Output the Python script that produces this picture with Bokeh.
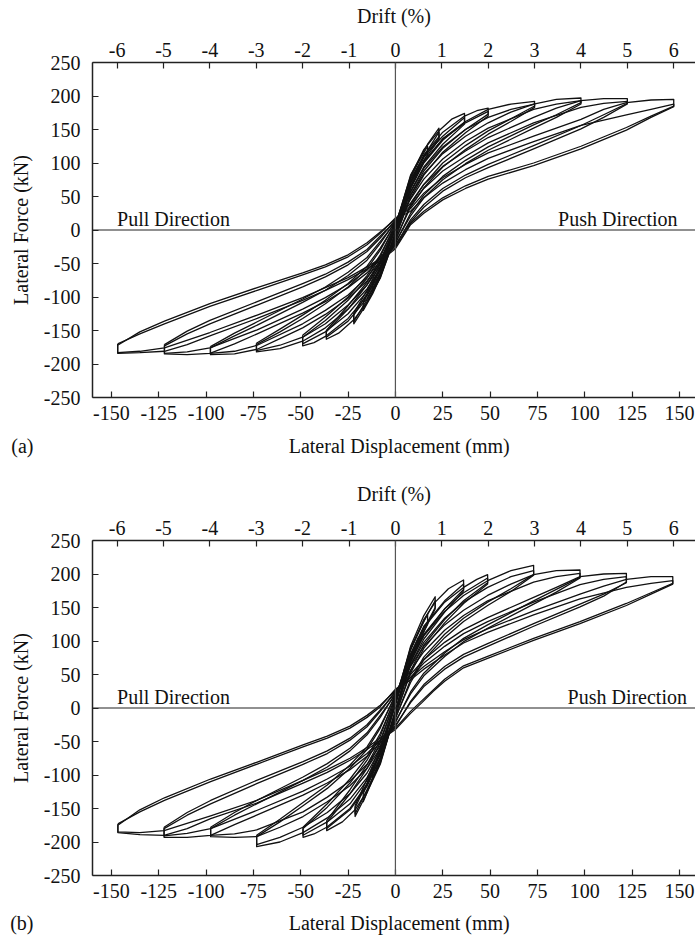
from bokeh.plotting import figure
from bokeh.models import (Range1d, LinearAxis, FixedTicker, Span, Label, ColumnDataSource,
                          CustomJSTickFormatter)
from bokeh.core.properties import value
from bokeh.layouts import column
from bokeh.embed import file_html
from bokeh.resources import INLINE

FONT = "Liberation Serif"

DISP_TICKS = [-150, -125, -100, -75, -50, -25, 0, 25, 50, 75, 100, 125, 150]
FORCE_TICKS = [-250, -200, -150, -100, -50, 0, 50, 100, 150, 200, 250]
DRIFT_TICKS = [-6, -5, -4, -3, -2, -1, 0, 1, 2, 3, 4, 5, 6]
MM_PER_PCT = 24.5
X_START, X_END = -160, 158.5

A_025 = [(-6, -45), (0, 2), (6, 55), (6, 48), (0, -4), (-6, -52)]
A_050 = [(-12, -80), (-6, -45), (0, 3), (6, 60), (12, 95),
         (12, 85), (6, 52), (0, -5), (-6, -52), (-12, -90)]
A_075 = [(-17, -108), (-8, -60), (0, 4), (8, 78), (12, 100), (17, 125),
         (17, 113), (8, 70), (0, -6), (-8, -70), (-12, -95), (-17, -120)]
A_100 = [(-22, -127), (-15, -95), (-8, -55), (0, 5), (8, 82), (17, 128), (23, 152),
         (23, 137), (15, 108), (8, 70), (0, -8), (-8, -72), (-17, -118), (-22, -140)]
A_150 = [(-36.5, -152), (-25, -118), (-15, -82), (-8, -48), (0, 7), (8, 80), (15, 120), (23, 148), (30, 166), (36.5, 174),
         (36.5, 161), (25, 134), (15, 100), (8, 62), (0, -10), (-8, -70), (-15, -108), (-22, -134), (-30, -154), (-36.5, -163)]
A_200 = [(-49, -160), (-37, -135), (-25, -105), (-15, -72), (-8, -40), (0, 9), (8, 72), (15, 112), (25, 146), (36.5, 170), (43, 178), (49, 182),
         (49, 173), (37, 150), (25, 122), (15, 88), (8, 52), (0, -12), (-8, -64), (-15, -98), (-25, -132), (-36.5, -158), (-43, -168), (-49, -173)]
A_300 = [(-73.4, -171), (-61, -152), (-49, -132), (-37, -110), (-25, -85), (-15, -58), (-8, -30), (0, 11), (8, 64), (15, 102), (25, 136), (37, 162), (49, 180), (61, 188), (73.5, 192),
         (73.5, 185), (61, 166), (49, 148), (37, 126), (25, 100), (15, 68), (8, 38), (0, -16), (-8, -58), (-15, -88), (-25, -118), (-37, -146), (-49, -166), (-61, -177), (-73.4, -182)]
A_400 = [(-97.7, -176), (-85, -158), (-73, -142), (-49, -108), (-37, -90), (-25, -68), (-15, -45), (-8, -20), (0, 13), (8, 52), (15, 84), (25, 114), (37, 140), (49, 160), (61, 176), (73, 188), (85, 195), (98, 197),
         (98, 190), (85, 172), (73, 157), (49, 124), (37, 104), (25, 80), (15, 52), (8, 25), (0, -20), (-8, -50), (-15, -76), (-25, -102), (-37, -126), (-49, -146), (-61, -162), (-73, -178), (-85, -185), (-97.7, -186)]
A_500 = [(-122, -173), (-110, -155), (-98, -140), (-73, -112), (-49, -85), (-37, -70), (-25, -52), (-15, -32), (-8, -12), (0, 15), (8, 40), (15, 68), (25, 95), (37, 118), (49, 138), (73, 168), (85, 182), (98, 193), (110, 196), (122.5, 196),
         (122.5, 189), (110, 172), (98, 156), (73, 126), (49, 98), (37, 82), (25, 62), (15, 38), (8, 15), (0, -24), (-8, -42), (-15, -64), (-25, -86), (-37, -107), (-49, -124), (-73, -155), (-85, -170), (-98, -184), (-110, -186), (-122, -185)]
A_600 = [(-146.7, -170), (-135, -155), (-122, -140), (-98, -114), (-73, -90), (-49, -67), (-37, -55), (-25, -40), (-15, -22), (-8, -5), (0, 18), (8, 32), (15, 55), (25, 78), (37, 98), (49, 115), (73, 140), (98, 165), (110, 180), (122, 190), (135, 194), (147, 195),
         (147, 184), (135, 168), (122, 149), (98, 121), (73, 96), (49, 76), (37, 62), (25, 45), (15, 25), (8, 8), (0, -28), (-8, -46), (-15, -58), (-25, -74), (-37, -90), (-49, -105), (-73, -132), (-98, -158), (-110, -171), (-122, -181), (-135, -183), (-146.7, -184)]

A2_100 = [(-22, -124), (-15, -90), (-8, -50), (0, 3), (8, 76), (15, 110), (23, 146),
          (23, 135), (15, 104), (8, 66), (0, -6), (-8, -68), (-15, -104), (-22, -137)]
A2_150 = [(-36.5, -150), (-25, -113), (-15, -78), (-8, -45), (0, 5), (8, 72), (15, 110), (25, 140), (36.5, 168),
          (36.5, 158), (25, 128), (15, 94), (8, 58), (0, -8), (-8, -66), (-15, -102), (-25, -136), (-36.5, -160)]
A2_200 = [(-49, -157), (-37, -130), (-25, -100), (-15, -68), (-8, -37), (0, 7), (8, 64), (15, 102), (25, 136), (37, 160), (49, 177),
          (49, 170), (37, 145), (25, 116), (15, 82), (8, 48), (0, -10), (-8, -60), (-15, -92), (-25, -125), (-37, -152), (-49, -170)]
A2_300 = [(-73.4, -169), (-61, -148), (-49, -127), (-37, -105), (-25, -80), (-15, -54), (-8, -27), (0, 9), (8, 56), (15, 92), (25, 124), (37, 150), (49, 168), (61, 180), (73.5, 188),
          (73.5, 183), (61, 162), (49, 143), (37, 120), (25, 94), (15, 63), (8, 34), (0, -14), (-8, -54), (-15, -82), (-25, -112), (-37, -140), (-49, -160), (-61, -172), (-73.4, -180)]
A2_400 = [(-97.7, -174), (-85, -154), (-73, -137), (-49, -103), (-37, -85), (-25, -63), (-15, -41), (-8, -17), (0, 11), (8, 46), (15, 76), (25, 106), (37, 132), (49, 152), (73, 180), (85, 188), (98, 193),
          (98, 188), (85, 168), (73, 152), (49, 119), (37, 99), (25, 75), (15, 48), (8, 21), (0, -18), (-8, -46), (-15, -71), (-25, -97), (-37, -120), (-49, -140), (-73, -172), (-85, -181), (-97.7, -184)]
A2_500 = [(-122, -171), (-110, -151), (-98, -135), (-73, -107), (-49, -80), (-37, -66), (-25, -48), (-15, -29), (-8, -9), (0, 13), (8, 36), (15, 62), (25, 88), (37, 110), (49, 130), (73, 160), (98, 183), (110, 189), (122.5, 192),
          (122.5, 188), (110, 168), (98, 151), (73, 121), (49, 93), (37, 78), (25, 58), (15, 34), (8, 12), (0, -22), (-8, -40), (-15, -60), (-25, -81), (-37, -101), (-49, -118), (-73, -149), (-98, -176), (-110, -182), (-122, -184)]
A2_600 = [(-146.7, -172), (-135, -152), (-122, -136), (-98, -110), (-73, -86), (-49, -64), (-37, -52), (-25, -37), (-15, -19), (-8, -3), (0, 16), (8, 28), (15, 48), (25, 70), (37, 90), (49, 107), (73, 132), (98, 156), (122, 172), (135, 180), (147, 188),
          (147, 185), (135, 170), (122, 153), (98, 125), (73, 100), (49, 80), (37, 66), (25, 48), (15, 28), (8, 10), (0, -26), (-8, -43), (-15, -55), (-25, -71), (-37, -86), (-49, -101), (-73, -127), (-98, -153), (-122, -176), (-135, -181), (-146.7, -183)]

B_025 = [(-6, -50), (0, 4), (6, 60), (6, 52), (0, -4), (-6, -58)]
B_050 = [(-12, -95), (-6, -52), (0, 6), (6, 65), (12, 105),
         (12, 95), (6, 55), (0, -5), (-6, -60), (-12, -105)]
B_075 = [(-17, -128), (-8, -66), (0, 8), (8, 90), (12, 112), (17, 140),
         (17, 125), (8, 75), (0, -6), (-8, -82), (-12, -106), (-17, -140)]
B_100 = [(-21.3, -149), (-15, -112), (-8, -62), (0, 10), (8, 92), (15, 138), (21, 166),
         (21, 150), (15, 118), (8, 76), (0, -7), (-8, -84), (-17, -138), (-21.3, -162)]
B_150 = [(-36.3, -171), (-24, -128), (-15, -90), (-8, -52), (0, 14), (8, 88), (15, 132), (21, 158), (28, 178), (36, 191),
         (36, 177), (26, 148), (15, 108), (8, 68), (0, -9), (-8, -80), (-15, -124), (-21.3, -152), (-28, -170), (-36.3, -183)]
B_200 = [(-48.8, -180), (-36, -148), (-24, -112), (-15, -78), (-8, -42), (0, 17), (8, 80), (15, 120), (26, 158), (36, 180), (43, 192), (48.7, 199),
         (48.7, 187), (36, 160), (26, 132), (15, 94), (8, 56), (0, -12), (-8, -74), (-15, -114), (-24, -150), (-36.3, -178), (-43, -188), (-48.8, -193)]
B_300 = [(-73.3, -192), (-61, -170), (-48.8, -146), (-36, -120), (-24, -90), (-15, -62), (-8, -30), (0, 20), (8, 72), (15, 108), (26, 144), (36, 168), (48.7, 190), (61, 205), (73, 213),
         (73, 199), (61, 178), (48.7, 158), (36, 134), (26, 110), (15, 76), (8, 42), (0, -16), (-8, -68), (-15, -104), (-24, -136), (-36, -164), (-48.8, -186), (-61, -200), (-73.3, -207)]
B_400 = [(-97.6, -180), (-85, -160), (-73.3, -143), (-48.8, -108), (-36, -88), (-24, -64), (-15, -40), (-8, -14), (0, 22), (8, 62), (15, 92), (26, 124), (36, 146), (48.7, 168), (61, 185), (73, 199), (85, 205), (97.5, 206),
         (97.5, 195), (85, 177), (73, 160), (48.7, 124), (36, 104), (26, 82), (15, 52), (8, 24), (0, -22), (-8, -60), (-15, -90), (-24, -116), (-36, -140), (-48.8, -162), (-61, -178), (-73.3, -192), (-85, -193), (-97.6, -192)]
B_500 = [(-122.2, -180), (-110, -160), (-97.6, -143), (-73.3, -113), (-48.8, -84), (-36, -68), (-24, -48), (-15, -28), (-8, -5), (0, 25), (8, 50), (15, 72), (26, 98), (36, 117), (48.7, 135), (73, 165), (85, 180), (97.5, 196), (110, 200), (122, 201),
         (122, 187), (110, 170), (97.5, 155), (73, 126), (48.7, 96), (36, 80), (26, 62), (15, 35), (8, 10), (0, -28), (-8, -52), (-15, -72), (-24, -92), (-36, -112), (-48.8, -130), (-73.3, -160), (-85, -174), (-97.6, -190), (-110, -193), (-122.2, -193)]
B_600 = [(-146.6, -173), (-135, -155), (-122, -138), (-97.6, -110), (-73.3, -84), (-48.8, -58), (-36, -45), (-24, -30), (-15, -14), (-8, 2), (0, 28), (8, 45), (15, 62), (26, 84), (36, 102), (48.7, 118), (73, 145), (97.5, 170), (110, 182), (122, 192), (135, 196), (146.5, 196),
         (146.5, 185), (135, 170), (122, 153), (97.5, 126), (73, 101), (48.7, 74), (36, 60), (26, 40), (20, 25), (14, 8), (8, -8), (0, -32), (-8, -48), (-15, -62), (-24, -78), (-36, -96), (-48.8, -112), (-73.3, -142), (-97.6, -165), (-110, -180), (-122.2, -190), (-135, -189), (-146.6, -186)]

B2_100 = [(-21.3, -146), (-15, -106), (-8, -58), (0, 8), (8, 86), (15, 130), (21, 160),
          (21, 148), (15, 114), (8, 72), (0, -6), (-8, -80), (-15, -122), (-21.3, -158)]
B2_150 = [(-36.3, -168), (-24, -122), (-15, -85), (-8, -48), (0, 12), (8, 80), (15, 122), (26, 160), (36, 185),
          (36, 175), (26, 143), (15, 103), (8, 64), (0, -8), (-8, -75), (-15, -117), (-24, -152), (-36.3, -180)]
B2_200 = [(-48.8, -178), (-36, -143), (-24, -106), (-15, -73), (-8, -38), (0, 15), (8, 72), (15, 110), (26, 148), (36, 172), (48.7, 194),
          (48.7, 185), (36, 156), (26, 127), (15, 89), (8, 52), (0, -10), (-8, -70), (-15, -108), (-24, -143), (-36, -170), (-48.8, -190)]
B2_300 = [(-73.3, -190), (-61, -166), (-48.8, -141), (-36, -115), (-24, -85), (-15, -58), (-8, -27), (0, 18), (8, 64), (15, 98), (26, 134), (36, 158), (48.7, 180), (61, 196), (73, 205),
          (73, 198), (61, 174), (48.7, 153), (36, 129), (26, 105), (15, 72), (8, 38), (0, -14), (-8, -62), (-15, -97), (-24, -128), (-36, -156), (-48.8, -178), (-61, -193), (-73.3, -204)]
B2_400 = [(-97.6, -178), (-85, -156), (-73.3, -138), (-48.8, -103), (-36, -83), (-24, -60), (-15, -37), (-8, -11), (0, 20), (8, 56), (15, 84), (26, 116), (36, 138), (48.7, 160), (73, 188), (85, 196), (97.5, 201),
          (97.5, 194), (85, 173), (73, 155), (48.7, 119), (36, 99), (26, 77), (15, 48), (8, 21), (0, -20), (-8, -56), (-15, -84), (-24, -109), (-36, -133), (-48.8, -155), (-73.3, -182), (-85, -188), (-97.6, -190)]
B2_500 = [(-122.2, -178), (-110, -156), (-97.6, -138), (-73.3, -108), (-48.8, -80), (-36, -64), (-24, -45), (-15, -25), (-8, -3), (0, 23), (8, 46), (15, 67), (26, 92), (36, 111), (48.7, 129), (73, 158), (97.5, 184), (110, 192), (122, 196),
          (122, 188), (110, 167), (97.5, 151), (73, 122), (48.7, 92), (36, 76), (26, 58), (15, 32), (8, 8), (0, -26), (-8, -49), (-15, -68), (-24, -87), (-36, -106), (-48.8, -124), (-73.3, -153), (-97.6, -180), (-110, -187), (-122.2, -191)]
B2_600 = [(-146.6, -175), (-135, -152), (-122, -134), (-97.6, -106), (-73.3, -81), (-48.8, -55), (-36, -42), (-24, -27), (-15, -11), (-8, 4), (0, 26), (8, 42), (15, 58), (26, 79), (36, 97), (48.7, 113), (73, 139), (97.5, 163), (122, 180), (135, 186), (146.5, 190),
          (146.5, 186), (135, 172), (122, 156), (97.5, 129), (73, 104), (48.7, 77), (36, 63), (26, 43), (14, 11), (8, -5), (0, -30), (-8, -45), (-15, -59), (-24, -75), (-36, -92), (-48.8, -108), (-73.3, -138), (-97.6, -161), (-122.2, -183), (-135, -186), (-146.6, -185)]

LOOPS_A = [A_025, A_050, A_075, A_100, A_150, A_200, A_300, A_400, A_500, A_600,
           A2_100, A2_150, A2_200, A2_300, A2_400, A2_500, A2_600]
LOOPS_B = [B_025, B_050, B_075, B_100, B_150, B_200, B_300, B_400, B_500, B_600,
           B2_100, B2_150, B2_200, B2_300, B2_400, B2_500, B2_600]

X_TITLE = "Lateral Displacement (mm)"
Y_TITLE = "Lateral Force (kN)"
TOP_TITLE = "Drift (%)"

TICK_FMT = "return tick.toString();"
LEFT_BORDER = 92
FIG_W = 695


def style_axis(ax, standoff, label_standoff):
    ax.axis_line_color = "#222222"
    ax.axis_line_width = 1.5
    ax.major_tick_in = 6
    ax.major_tick_out = 0
    ax.major_tick_line_color = "#222222"
    ax.major_tick_line_width = 1.2
    ax.minor_tick_line_color = None
    ax.formatter = CustomJSTickFormatter(code=TICK_FMT)
    ax.major_label_text_font = FONT
    ax.major_label_text_font_size = "20px"
    ax.major_label_text_color = "#111111"
    ax.axis_label_text_font = FONT
    ax.axis_label_text_font_size = "20px"
    ax.axis_label_text_font_style = "normal"
    ax.axis_label_text_color = "#111111"
    ax.major_label_standoff = standoff
    ax.axis_label_standoff = label_standoff


def make_panel(loops, height, top_border, push_x):
    p = figure(width=FIG_W, height=height,
               x_range=Range1d(X_START, X_END), y_range=Range1d(-250, 250),
               output_backend="svg", toolbar_location=None,
               min_border_left=LEFT_BORDER, min_border_right=0,
               min_border_top=top_border, min_border_bottom=32)
    p.outline_line_color = None
    p.grid.visible = False
    p.background_fill_color = "white"
    p.border_fill_color = "white"

    p.xaxis.ticker = FixedTicker(ticks=DISP_TICKS)
    p.yaxis.ticker = FixedTicker(ticks=FORCE_TICKS)
    p.yaxis.axis_label = Y_TITLE
    style_axis(p.xaxis[0], 8, 0)
    style_axis(p.yaxis[0], 12, 9)

    p.extra_x_ranges = {"drift": Range1d(X_START / MM_PER_PCT, X_END / MM_PER_PCT)}
    top = LinearAxis(x_range_name="drift", axis_label=TOP_TITLE,
                     ticker=FixedTicker(ticks=DRIFT_TICKS))
    style_axis(top, 6, 13)
    p.add_layout(top, "above")

    p.add_layout(Span(location=0, dimension="height", line_color="#555555", line_width=1.2))
    p.add_layout(Span(location=0, dimension="width", line_color="#222222", line_width=1.2))

    xs = [[pt[0] for pt in lp] + [lp[0][0]] for lp in loops]
    ys = [[pt[1] for pt in lp] + [lp[0][1]] for lp in loops]
    src = ColumnDataSource(dict(xs=xs, ys=ys))
    p.multi_line(xs="xs", ys="ys", source=src, line_color="#111111",
                 line_width=1.3, line_join="round")

    p.add_layout(Label(x=-147, y=17, text="Pull Direction", text_font=FONT,
                       text_font_size="20px", text_color="#111111",
                       text_align="left", text_baseline="alphabetic"))
    p.add_layout(Label(x=push_x, y=17, text="Push Direction", text_font=FONT,
                       text_font_size="20px", text_color="#111111",
                       text_align="right", text_baseline="alphabetic"))
    return p


def make_caption(tag, height):
    """Strip under a panel: the panel tag (left margin) and the displacement axis title."""
    c = figure(width=FIG_W, height=height,
               x_range=Range1d(X_START, X_END), y_range=Range1d(0, 1),
               x_axis_type=None, y_axis_type=None,
               output_backend="svg", toolbar_location=None,
               min_border_left=LEFT_BORDER, min_border_right=0,
               min_border_top=0, min_border_bottom=0)
    c.outline_line_color = None
    c.background_fill_color = "white"
    c.border_fill_color = "white"
    # the tag sits in the left margin: carried by a bare axis whose only content is its title
    tag_axis = LinearAxis(ticker=FixedTicker(ticks=[]), axis_label=tag,
                          axis_label_orientation="horizontal", axis_label_standoff=59,
                          axis_line_color=None, major_tick_line_color=None,
                          minor_tick_line_color=None)
    tag_axis.axis_label_text_font = FONT
    tag_axis.axis_label_text_font_size = "20px"
    tag_axis.axis_label_text_font_style = "normal"
    tag_axis.axis_label_text_color = "#111111"
    c.add_layout(tag_axis, "left")
    c.text(x=[2], y=[0.5], text=[X_TITLE], text_font=value(FONT),
           text_font_size=value("20px"), text_color="#111111",
           text_align="center", text_baseline="middle")
    return c


pa = make_panel(LOOPS_A, 429, 62, 149)
ca = make_caption("(a)", 32)
pb = make_panel(LOOPS_B, 446, 79, 154)
cb = make_caption("(b)", 31)

layout = column(pa, ca, pb, cb, spacing=0)
open("out.html", "w").write(file_html(layout, INLINE))
